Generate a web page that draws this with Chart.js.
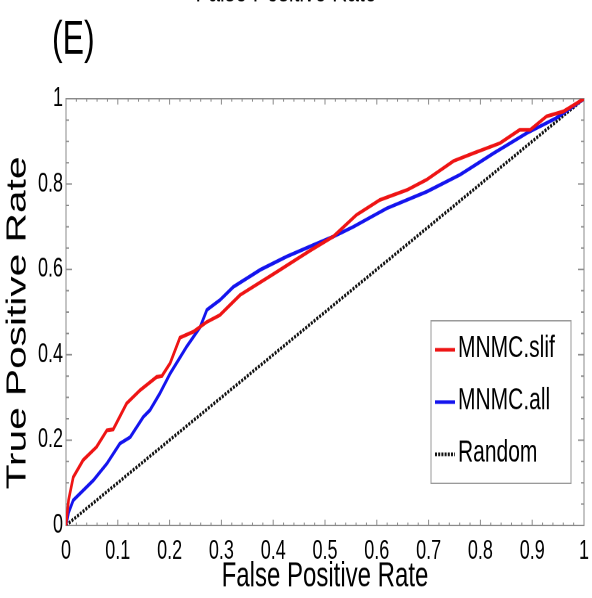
<!DOCTYPE html>
<html>
<head>
<meta charset="utf-8">
<script src="https://cdn.jsdelivr.net/npm/chart.js@4"></script>
<style>
html, body { margin: 0; padding: 0; background: #fff; }
/* the source figure is stretched vertically, so the canvas is drawn 412 high and shown 598 high */
#roc { display: block; width: 592px; height: 598px; }
</style>
</head>
<body>
<canvas id="roc" width="592" height="412" style="width:592px;height:598px"></canvas>
<script>
// ROC curves
let slifFpr = [0, 0.005, 0.014, 0.033, 0.059, 0.079, 0.091, 0.117, 0.143, 0.175, 0.185, 0.201, 0.220, 0.246, 0.272, 0.297, 0.336, 0.387, 0.413, 0.471, 0.516, 0.561, 0.606, 0.658, 0.696, 0.748, 0.786, 0.838, 0.876, 0.896, 0.928, 0.960, 1];
let slifTpr = [0, 0.060, 0.113, 0.153, 0.184, 0.223, 0.225, 0.286, 0.317, 0.348, 0.350, 0.380, 0.440, 0.454, 0.477, 0.493, 0.540, 0.579, 0.599, 0.644, 0.677, 0.728, 0.763, 0.786, 0.810, 0.854, 0.872, 0.896, 0.927, 0.927, 0.959, 0.970, 1];

let allFpr = [0, 0.005, 0.014, 0.053, 0.079, 0.104, 0.124, 0.149, 0.162, 0.181, 0.201, 0.233, 0.259, 0.272, 0.297, 0.323, 0.375, 0.426, 0.477, 0.516, 0.555, 0.619, 0.696, 0.761, 0.825, 0.889, 0.947, 1];
let allTpr = [0, 0.030, 0.059, 0.106, 0.145, 0.192, 0.207, 0.254, 0.270, 0.309, 0.356, 0.419, 0.465, 0.505, 0.528, 0.559, 0.599, 0.630, 0.657, 0.677, 0.700, 0.743, 0.782, 0.822, 0.872, 0.919, 0.955, 1];

let randomFpr = [0, 1];
let randomTpr = [0, 1];

let seriesNames = ['MNMC.slif', 'MNMC.all', 'Random'];
let xTickLabels = ['0', '0.1', '0.2', '0.3', '0.4', '0.5', '0.6', '0.7', '0.8', '0.9', '1'];
let yTickLabels = ['0', '0.2', '0.4', '0.6', '0.8', '1'];

const FONT = '"Liberation Sans", Arial, Helvetica, sans-serif';

function toPoints(xs, ys) {
    return xs.map((x, i) => ({ x: x, y: ys[i] }));
}

// matlab style box with inward ticks on all four sides
const axesBox = {
    id: 'axesBox',
    beforeDatasetsDraw(chart) {
        const ctx = chart.ctx;
        const a = chart.chartArea;
        const xs = chart.scales.x, ys = chart.scales.y;
        ctx.save();
        ctx.strokeStyle = '#8a8a8a';
        ctx.lineWidth = 1;
        ctx.strokeRect(a.left, a.top, a.right - a.left, a.bottom - a.top);
        ctx.beginPath();
        for (let i = 0; i <= 50; i++) {
            const px = xs.getPixelForValue(i * 0.02);
            const len = i % 5 === 0 ? 4 : 2;
            ctx.moveTo(px, a.bottom); ctx.lineTo(px, a.bottom - len);
            ctx.moveTo(px, a.top); ctx.lineTo(px, a.top + len);
        }
        for (let i = 0; i <= 20; i++) {
            const py = ys.getPixelForValue(i * 0.05);
            const len = i % 4 === 0 ? 6 : 3;
            ctx.moveTo(a.left, py); ctx.lineTo(a.left + len, py);
            ctx.moveTo(a.right, py); ctx.lineTo(a.right - len, py);
        }
        ctx.stroke();
        ctx.restore();
    },
    afterDatasetsDraw(chart) {
        const ctx = chart.ctx;
        const a = chart.chartArea;
        ctx.save();
        // legend box inside the axes
        const bx = a.right - 153, by = a.bottom - 141, bw = 140, bh = 112;
        ctx.fillStyle = '#fff';
        ctx.fillRect(bx, by, bw, bh);
        ctx.strokeStyle = '#9a9a9a';
        ctx.lineWidth = 1;
        ctx.strokeRect(bx, by, bw, bh);
        ctx.font = '21px ' + FONT;
        ctx.textBaseline = 'middle';
        chart.data.datasets.forEach((ds, i) => {
            const cy = by + 20 + i * 36;
            ctx.strokeStyle = ds.borderColor;
            ctx.lineWidth = ds.borderWidth;
            ctx.setLineDash(ds.borderDash || []);
            ctx.beginPath();
            ctx.moveTo(bx + 4, cy);
            ctx.lineTo(bx + 24, cy);
            ctx.stroke();
            ctx.setLineDash([]);
            ctx.fillStyle = '#000';
            ctx.fillText(ds.label, bx + 27, cy - 1);
        });

        // y axis title, placed a bit below the middle as in the source
        ctx.save();
        ctx.translate(18, 222.5);
        ctx.rotate(-Math.PI / 2);
        ctx.font = '28px ' + FONT;
        ctx.textAlign = 'center';
        ctx.fillText('True Positive Rate', 0, 0);
        ctx.restore();

        // panel letter and the cut off title of the panel above
        ctx.textBaseline = 'alphabetic';
        ctx.font = '32px ' + FONT;
        ctx.fillText('(E)', 52, 36.8);
        ctx.font = '21px ' + FONT;
        ctx.textAlign = 'center';
        ctx.fillText('False Positive Rate', 286, 0.9);
        ctx.restore();
    }
};

let ctx = document.getElementById('roc');
let rocChart = new Chart(ctx, {
    type: 'line',
    data: {
        datasets: [{
            label: seriesNames[0],
            data: toPoints(slifFpr, slifTpr),
            borderColor: '#ee1414',
            borderWidth: 2.6,
            order: 0
        }, {
            label: seriesNames[1],
            data: toPoints(allFpr, allTpr),
            borderColor: '#1414ee',
            borderWidth: 2.6,
            order: 1
        }, {
            label: seriesNames[2],
            data: toPoints(randomFpr, randomTpr),
            borderColor: '#111111',
            borderWidth: 2.4,
            borderDash: [2, 1.2],
            order: 2
        }]
    },
    options: {
        responsive: false,
        animation: false,
        devicePixelRatio: 2,
        layout: { padding: { top: 68, right: 8, left: 0, bottom: 0 } },
        elements: { point: { radius: 0 }, line: { tension: 0 } },
        plugins: {
            legend: { display: false },
            tooltip: { enabled: false }
        },
        scales: {
            x: {
                type: 'linear',
                min: 0,
                max: 1,
                grid: { display: false, drawTicks: false },
                border: { display: false },
                ticks: {
                    stepSize: 0.1,
                    padding: 7,
                    autoSkip: false,
                    maxRotation: 0,
                    color: '#000',
                    font: { family: FONT, size: 18 },
                    callback: (v, i) => xTickLabels[i]
                },
                title: {
                    display: true,
                    text: 'False Positive Rate',
                    color: '#000',
                    font: { family: FONT, size: 24 },
                    padding: { top: 0, bottom: 0 }
                },
                afterFit(scale) {
                    scale.height = 50;
                    scale.paddingLeft = 0;
                    scale.paddingRight = 0;
                }
            },
            y: {
                type: 'linear',
                min: 0,
                max: 1,
                grid: { display: false, drawTicks: false },
                border: { display: false },
                ticks: {
                    stepSize: 0.2,
                    padding: 3,
                    color: '#000',
                    font: { family: FONT, size: 18 },
                    callback: (v, i) => yTickLabels[i]
                },
                afterFit(scale) {
                    scale.width = 66;
                    scale.paddingTop = 0;
                    scale.paddingBottom = 0;
                }
            }
        }
    },
    plugins: [axesBox]
});
</script>
</body>
</html>
